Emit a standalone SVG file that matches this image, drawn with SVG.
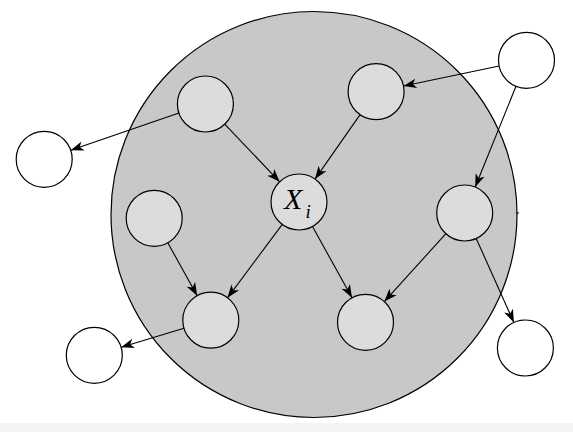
<svg xmlns="http://www.w3.org/2000/svg" width="573" height="432" viewBox="0 0 573 432">
  <style>
    .node { stroke: #000; stroke-width: 1.2; }
    .gray { fill: #dcdcdc; }
    .white { fill: #ffffff; }
    .edge { stroke: #000; stroke-width: 1.1; fill: none; marker-end: url(#arr); }
    .lbl { font-family: "Liberation Serif", "DejaVu Serif", serif; font-style: italic; fill: #000; }
  </style>
  <defs>
    <marker id="arr" markerUnits="userSpaceOnUse" markerWidth="15" markerHeight="11" viewBox="-14 -5.5 15 11" refX="0" refY="0" orient="auto">
      <path d="M0,0 L-13,-4.8 L-9.5,0 L-13,4.8 Z" fill="#000"/>
    </marker>
  </defs>
  <rect x="0" y="0" width="573" height="432" fill="#ffffff"/>
  <rect x="0" y="423" width="573" height="9" fill="#f4f4f4"/>
  <g id="cluster">
    <circle cx="314" cy="214.5" r="203" fill="#c8c8c8" stroke="#000" stroke-width="1.2"/>
    <line x1="516" y1="213" x2="519" y2="213" stroke="#000" stroke-width="1"/>
  </g>
  <g id="connectors">
    <line class="edge" x1="224.7" y1="124.2" x2="279.7" y2="181.8"/>
    <line class="edge" x1="360.1" y1="114.6" x2="315.0" y2="179.1"/>
    <line class="edge" x1="499.1" y1="66.0" x2="403.5" y2="86.0"/>
    <line class="edge" x1="516.0" y1="86.3" x2="475.2" y2="187.0"/>
    <line class="edge" x1="178.9" y1="113.1" x2="70.7" y2="150.2"/>
    <line class="edge" x1="167.8" y1="242.8" x2="197.2" y2="295.7"/>
    <line class="edge" x1="282.3" y1="224.4" x2="227.5" y2="297.8"/>
    <line class="edge" x1="312.5" y1="226.5" x2="352.0" y2="297.8"/>
    <line class="edge" x1="445.9" y1="233.7" x2="384.3" y2="301.6"/>
    <line class="edge" x1="476.2" y1="238.5" x2="513.9" y2="322.5"/>
    <line class="edge" x1="184.0" y1="328.3" x2="121.1" y2="347.2"/>
  </g>
  <g id="nA"><circle class="node gray" cx="205.4" cy="104" r="28"/></g>
  <g id="nB"><circle class="node gray" cx="376.1" cy="91.7" r="28"/></g>
  <g id="nC"><circle class="node white" cx="526.5" cy="60.3" r="28"/></g>
  <g id="nD"><circle class="node white" cx="44.2" cy="159.3" r="28"/></g>
  <g id="nX">
    <circle class="node gray" cx="299" cy="202" r="28"/>
    <text class="lbl" x="284" y="209" font-size="30">X</text>
    <text class="lbl" x="305.5" y="217.5" font-size="19">i</text>
  </g>
  <g id="nE"><circle class="node gray" cx="154.2" cy="218.3" r="28"/></g>
  <g id="nF"><circle class="node gray" cx="464.7" cy="213" r="28"/></g>
  <g id="nG"><circle class="node gray" cx="210.8" cy="320.2" r="28"/></g>
  <g id="nH"><circle class="node gray" cx="365.5" cy="322.3" r="28"/></g>
  <g id="nI"><circle class="node white" cx="94.3" cy="355.3" r="28"/></g>
  <g id="nJ"><circle class="node white" cx="525.4" cy="348" r="28"/></g>
</svg>
